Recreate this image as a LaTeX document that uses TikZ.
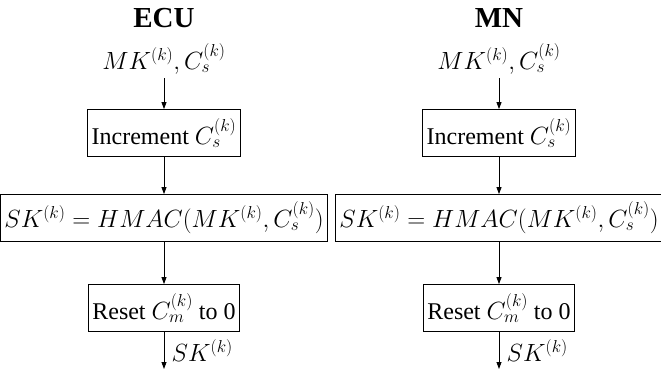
\documentclass[tikz,border=0pt]{standalone}
\usepackage{amsmath}
\usepackage{fontspec}
\setmainfont{Liberation Serif}
\usetikzlibrary{arrows.meta}

\begin{document}
\begin{tikzpicture}[x=1pt,y=1pt,line width=0.8pt,>={Triangle[length=7pt,width=5pt]},
		font=\fontsize{24}{28}\selectfont,
		box/.style={draw=black, minimum height=47pt, inner xsep=4pt},
		title/.style={font=\fontsize{29}{32}\selectfont\bfseries}]
		\useasboundingbox (0,0) rectangle (661,-375);

		% ECU side
		\node (ecu) [title] at (164,-18) {ECU};
		\node (ecuin) at (164,-59) {$MK^{(k)},C_s^{(k)}$};
		\node (ecuinc) [box] at (164,-133) {Increment $C_s^{(k)}$};
		\node (ecuhmac) [box] at (164,-218) {$SK^{(k)}=HMAC(MK^{(k)},C_s^{(k)})$};
		\node (ecurst) [box] at (164,-308) {Reset $C_m^{(k)}$ to 0};
		\coordinate (ecuout) at (164,-369);
		\draw[->] (ecuin) -- (ecuinc);
		\draw[->] (ecuinc) -- (ecuhmac);
		\draw[->] (ecuhmac) -- (ecurst);
		\draw[->] (ecurst) -- (ecuout) node [midway, right=4pt] {$SK^{(k)}$};

		% MN side
		\node (mn) [title] at (499,-18) {MN};
		\node (mnin) at (499,-59) {$MK^{(k)},C_s^{(k)}$};
		\node (mninc) [box] at (499,-133) {Increment $C_s^{(k)}$};
		\node (mnhmac) [box] at (499,-218) {$SK^{(k)}=HMAC(MK^{(k)},C_s^{(k)})$};
		\node (mnrst) [box] at (499,-308) {Reset $C_m^{(k)}$ to 0};
		\coordinate (mnout) at (499,-369);
		\draw[->] (mnin) -- (mninc);
		\draw[->] (mninc) -- (mnhmac);
		\draw[->] (mnhmac) -- (mnrst);
		\draw[->] (mnrst) -- (mnout) node [midway, right=4pt] {$SK^{(k)}$};

	\end{tikzpicture}
\end{document}
